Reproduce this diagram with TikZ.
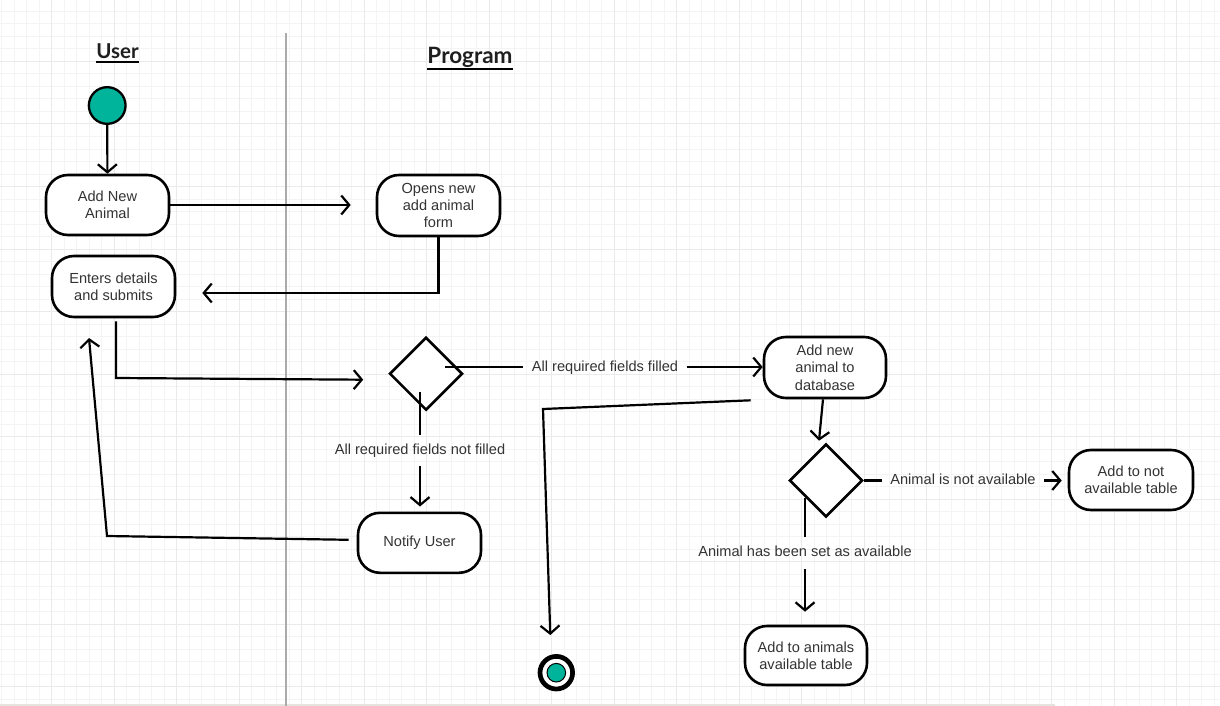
\documentclass[tikz,border=0pt]{standalone}
\usepackage{fontspec}
\setmainfont{Liberation Sans}
\newfontfamily\titlefont{Lato}
\usetikzlibrary{arrows.meta,shapes.geometric,calc}
\definecolor{teal1}{RGB}{0,180,156}
\definecolor{gminor}{HTML}{F4F4F4}
\definecolor{gmajor}{HTML}{EAEAEA}
\definecolor{txt}{HTML}{333333}
\definecolor{lane}{HTML}{ABABAB}
\definecolor{baseln}{HTML}{E6E2DE}
\tikzset{
  actbox/.style={draw, line width=2.6pt, rounded corners=22pt, fill=white,
    minimum width=123pt, minimum height=60pt, align=center, text=txt,
    font=\fontsize{14.6}{17.4}\selectfont, inner sep=0pt},
  decbox/.style={draw, diamond, line width=2.6pt, fill=white,
    minimum width=73pt, minimum height=73pt, inner sep=0pt},
  conn/.style={line width=2.2pt, line join=miter},
  arr/.style={-{Straight Barb[length=8pt,width=19pt]}},
  lab/.style={text=txt, font=\fontsize{14.6}{17.4}\selectfont,
    inner xsep=8.5pt, inner ysep=8pt, text height=10.6pt, text depth=3.1pt},
  title/.style={text=black!88, anchor=base, inner sep=0pt, text depth=0pt},
  gridminor/.style={draw=gminor, line width=1pt},
  gridmajor/.style={draw=gmajor, line width=1pt},
}
\begin{document}
\begin{tikzpicture}[x=1pt,y=-1pt]
\useasboundingbox (0,0) rectangle (1220,706);
\fill[white] (0,0) rectangle (1220,706);
% grid
\foreach \i in {0,...,97} \draw[gridminor] ({1.7+12.5*\i},0) -- ++(0,706);
\foreach \i in {0,...,56} \draw[gridminor] (0,{-1+12.5*\i}) -- ++(1220,0);
\foreach \i in {0,...,18} \draw[gridmajor] ({51.5+62.5*\i},0) -- ++(0,706);
\foreach \i in {0,...,11} \draw[gridmajor] (0,{-1+62.5*\i}) -- ++(1220,0);
\draw[draw=baseln, line width=2pt] (0,704.8) -- (1055,704.8);
% swimlane divider
\draw[draw=lane, line width=2.2pt] (286,33) -- (286,706);
% titles
\node[title, font=\titlefont\bfseries\fontsize{20.5}{24}\selectfont] (tuser) at (117.5,58.3) {User};
\draw[line width=2pt] ($(tuser.base west)+(0,3.4)$) -- ($(tuser.base east)+(0,3.4)$);
\node[title, font=\titlefont\bfseries\fontsize{22.5}{26}\selectfont] (tprog) at (470,63.3) {Program};
\draw[line width=2pt] ($(tprog.base west)+(0,6)$) -- ($(tprog.base east)+(0,6)$);
% nodes
\node[circle, draw, line width=2.3pt, fill=teal1, minimum size=36.7pt, inner sep=0pt] (start) at (107.2,105.5) {};
\node[actbox] (n1) at (107.5,205) {Add New\\Animal};
\node[actbox, minimum height=61pt] (n2) at (438.5,205.5) {Opens new\\add animal\\form};
\node[actbox, minimum height=61pt] (n3) at (113.5,286.5) {Enters details\\and submits};
\node[decbox] (d1) at (426,373.7) {};
\node[actbox, minimum width=122pt, minimum height=61pt] (n4) at (825,367.5) {Add new\\animal to\\database};
\node[actbox] (n5) at (419.5,542.8) {Notify User};
\node[decbox] (d2) at (826,480.5) {};
\node[actbox, minimum width=124pt] (n6) at (1131,480) {Add to not\\available table};
\node[actbox, minimum width=122pt, minimum height=59pt] (n7) at (806,655.5) {Add to animals\\available table};
\node[circle, draw, line width=4.7pt, fill=white, minimum size=32.6pt, inner sep=0pt] (end) at (556.3,672.7) {};
\fill[teal1, draw=black, line width=1pt] (end.center) circle[radius=9.3pt];
% labels
\node[lab] (L1) at (605,368) {All required fields filled};
\node[lab] (L2) at (420,450.5) {All required fields not filled};
\node[lab] (L3) at (963,481) {Animal is not available};
\node[lab, inner ysep=9pt] (L4) at (805,553) {Animal has been set as available};
% helper coordinates
\coordinate (c3) at ($(n3.east)+(26,6.5)$);
\coordinate (c4a) at ($(n3.south)+(2.5,3)$);
\coordinate (c4b) at (116,378);
\coordinate (c4c) at ($(d1.west)+(-25,6)$);
\coordinate (d1a) at ($(d1.center)+(19,-6.7)$);
\coordinate (d1b) at ($(d1.center)+(-6,18)$);
\coordinate (c7a) at ($(n5.west)+(-8,-3)$);
\coordinate (c7b) at (107,536);
\coordinate (c7c) at (89,338);
\coordinate (c8a) at ($(n4.south west)+(-12,1)$);
\coordinate (c8b) at (543,409);
\coordinate (c8c) at ($(end.north)+(-6,-19)$);
\coordinate (c9a) at ($(n4.south)+(-2,0)$);
\coordinate (c9b) at ($(d2.north)+(-7,-2)$);
\coordinate (d2b) at ($(d2.center)+(-21,17.5)$);
% connectors
\draw[conn,arr] (start) -- (n1);
\draw[conn,arr,shorten >=25pt] (n1.east) -- (n1.east -| n2.west);
\draw[conn,arr] (n2.south) |- (c3);
\draw[conn,arr] (c4a) -- (c4b) -- (c4c);
\draw[conn] (d1a) -- (d1a -| L1.west);
\draw[conn,arr] (d1a -| L1.east) -- (d1a -| n4.west);
\draw[conn] (d1b) -- (d1b |- L2.north);
\draw[conn,arr,shorten >=5pt] (L2.south) -- (L2.south |- n5.north);
\draw[conn,arr] (c7a) -- (c7b) -- (c7c);
\draw[conn,arr] (c8a) -- (c8b) -- (c8c);
\draw[conn,arr] (c9a) -- (c9b);
\draw[conn] (d2.east) -- (d2.east -| L3.west);
\draw[conn,arr,shorten >=6pt] (d2.east -| L3.east) -- (d2.east -| n6.west);
\draw[conn] (d2b) -- (d2b |- L4.north);
\draw[conn,arr,shorten >=13pt] (L4.south) -- (L4.south |- n7.north);
\end{tikzpicture}
\end{document}
